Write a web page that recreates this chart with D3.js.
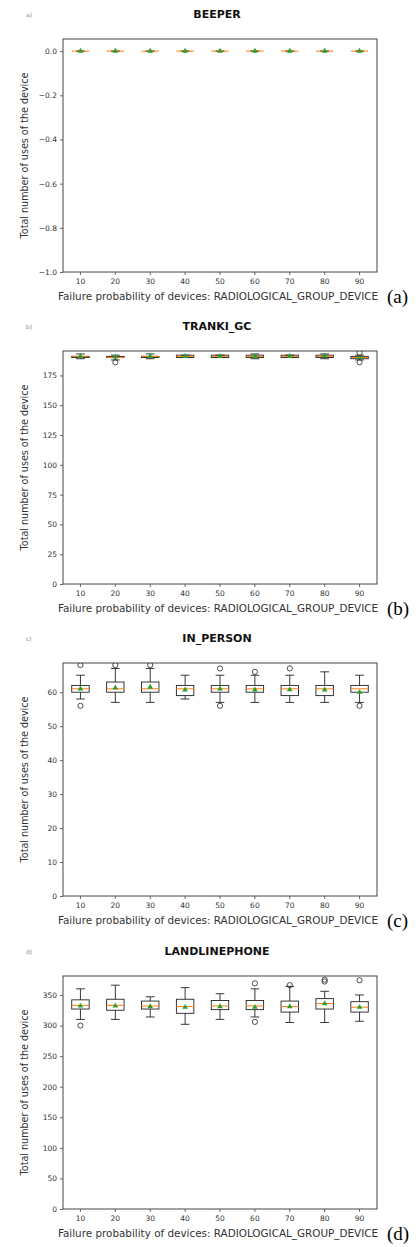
<!DOCTYPE html>
<html>
<head>
<meta charset="utf-8">
<script src="https://cdn.jsdelivr.net/npm/d3@7/dist/d3.min.js"></script>
<style>
  body { margin: 0; background: #fff; }
  svg { display: block; }
</style>
</head>
<body>
<script>
// Width and height
var w = 418;
var h = 1247;

var plotLeft = 63;
var plotRight = 377;
var plotHeight = 233;
var colorFrame = "#444";
var colorBox = "#222";
var colorMedian = "#ff7f0e";
var colorMean = "#2ca02c";

// failure probabilities on the x axis
var categories = [10, 20, 30, 40, 50, 60, 70, 80, 90];

// each box: [whisker low, q1, median, q3, whisker high, mean]
var beeperStats = [
  [0, 0, 0, 0, 0, 0], [0, 0, 0, 0, 0, 0], [0, 0, 0, 0, 0, 0],
  [0, 0, 0, 0, 0, 0], [0, 0, 0, 0, 0, 0], [0, 0, 0, 0, 0, 0],
  [0, 0, 0, 0, 0, 0], [0, 0, 0, 0, 0, 0], [0, 0, 0, 0, 0, 0]
];
var beeperFliers = [[], [], [], [], [], [], [], [], []];
var beeperTicks = [-1.0, -0.8, -0.6, -0.4, -0.2, 0.0];

var trankiStats = [
  [189, 190, 191, 191, 193, 191],
  [188, 190, 190, 191, 192, 190.5],
  [189, 190, 191, 191, 193, 191],
  [190, 190, 191, 192, 192, 191],
  [190, 190, 191, 192, 192, 191],
  [189, 190, 191, 192, 193, 191],
  [190, 190, 191, 192, 192, 191],
  [189, 190, 191, 192, 193, 191.5],
  [188, 189, 190, 191, 192, 190]
];
var trankiFliers = [[], [186], [], [], [], [], [], [], [194, 186]];
var trankiTicks = [0, 25, 50, 75, 100, 125, 150, 175];

var inPersonStats = [
  [58, 60, 61, 62, 65, 61],
  [57, 60, 61, 63, 67, 61.3],
  [57, 60, 61, 63, 67, 61.5],
  [58, 59, 61, 62, 65, 60.7],
  [57, 60, 61, 62, 65, 61],
  [57, 60, 61, 62, 65, 60.7],
  [57, 59, 61, 62, 65, 60.8],
  [57, 59, 61, 62, 66, 60.7],
  [57, 60, 61, 62, 65, 60]
];
var inPersonFliers = [[56, 68], [68], [68], [], [56, 67], [66], [67], [], [56]];
var inPersonTicks = [0, 10, 20, 30, 40, 50, 60];

var landlineStats = [
  [310, 327, 333, 342, 360, 332],
  [310, 325, 333, 343, 366, 332],
  [314, 327, 332, 340, 347, 331],
  [302, 320, 331, 343, 362, 330],
  [310, 326, 332, 341, 352, 331],
  [314, 326, 332, 341, 360, 330],
  [305, 322, 331, 340, 364, 331],
  [305, 327, 336, 344, 356, 336],
  [307, 322, 330, 339, 350, 330]
];
var landlineFliers = [[300], [], [], [], [], [306, 369], [366], [372, 375], [374]];
var landlineTicks = [0, 50, 100, 150, 200, 250, 300, 350];

var panels = [
  {title: "BEEPER", tag: "a)", letter: "(a)", top: 39, domain: [-1.0, 0.055],
   stats: beeperStats, fliers: beeperFliers, ticks: beeperTicks, fmt: d3.format(".1f")},
  {title: "TRANKI_GC", tag: "b)", letter: "(b)", top: 351, domain: [0, 195.5],
   stats: trankiStats, fliers: trankiFliers, ticks: trankiTicks, fmt: d3.format("d")},
  {title: "IN_PERSON", tag: "c)", letter: "(c)", top: 663, domain: [0, 68.6],
   stats: inPersonStats, fliers: inPersonFliers, ticks: inPersonTicks, fmt: d3.format("d")},
  {title: "LANDLINEPHONE", tag: "d)", letter: "(d)", top: 976, domain: [0, 381],
   stats: landlineStats, fliers: landlineFliers, ticks: landlineTicks, fmt: d3.format("d")}
];

//Create SVG element
var svg = d3.select("body")
  .append("svg")
  .attr("width", w)
  .attr("height", h)
  .attr("font-family", "'DejaVu Sans', sans-serif");

var x = d3.scaleBand()
  .domain(categories)
  .range([plotLeft, plotRight])
  .padding(0);
var bw = x.bandwidth();
var boxW = bw * 0.5;
var capW = bw * 0.25;

panels.forEach(function(p, pi) {
  var bottom = p.top + plotHeight;
  var y = d3.scaleLinear().domain(p.domain).range([bottom, p.top]);
  var g = svg.append("g");

  // clip to the axes like matplotlib
  svg.append("clipPath").attr("id", "clip" + pi)
    .append("rect")
    .attr("x", plotLeft).attr("y", p.top)
    .attr("width", plotRight - plotLeft).attr("height", plotHeight);

  // title and small tag
  g.append("text")
    .attr("x", (plotLeft + plotRight) / 2 - 3)
    .attr("y", p.top - 21)
    .attr("text-anchor", "middle")
    .attr("font-size", "11px")
    .attr("font-weight", "bold")
    .attr("fill", "#111")
    .text(p.title);
  g.append("text")
    .attr("x", 26)
    .attr("y", p.top - 22)
    .attr("font-size", "6px")
    .attr("fill", "#888")
    .text(p.tag);

  // axes
  var yAxis = g.append("g")
    .attr("transform", "translate(" + plotLeft + ",0)")
    .call(d3.axisLeft(y).tickValues(p.ticks).tickFormat(p.fmt).tickSize(3).tickPadding(3));
  var xAxis = g.append("g")
    .attr("transform", "translate(0," + bottom + ")")
    .call(d3.axisBottom(x).tickSize(3).tickPadding(4));
  [yAxis, xAxis].forEach(function(a) {
    a.select(".domain").remove();
    a.selectAll("line").attr("stroke", colorFrame).attr("stroke-width", 0.8);
    a.selectAll("text").attr("font-size", "7.5px").attr("fill", "#333")
      .attr("font-family", "'DejaVu Sans', sans-serif");
  });

  // frame
  g.append("rect")
    .attr("x", plotLeft).attr("y", p.top)
    .attr("width", plotRight - plotLeft).attr("height", plotHeight)
    .attr("fill", "none")
    .attr("stroke", colorFrame)
    .attr("stroke-width", 1);

  // axis labels
  g.append("text")
    .attr("transform", "translate(28," + (p.top + plotHeight / 2) + ") rotate(-90)")
    .attr("text-anchor", "middle")
    .attr("font-size", "9.6px")
    .attr("fill", "#333")
    .text("Total number of uses of the device");
  g.append("text")
    .attr("x", 218)
    .attr("y", bottom + 28)
    .attr("text-anchor", "middle")
    .attr("font-size", "10.4px")
    .attr("fill", "#333")
    .text("Failure probability of devices: RADIOLOGICAL_GROUP_DEVICE");
  g.append("text")
    .attr("x", 387)
    .attr("y", bottom + 31)
    .attr("font-family", "'Liberation Serif', 'DejaVu Serif', serif")
    .attr("font-size", "19px")
    .attr("fill", "#000")
    .text(p.letter);

  // boxes
  var boxes = g.append("g").attr("clip-path", "url(#clip" + pi + ")")
    .selectAll("g.box")
    .data(p.stats)
    .enter()
    .append("g")
    .attr("class", "box");

  var cx = function(d, i) { return x(categories[i]) + bw / 2; };

  // whiskers
  boxes.append("line")
    .attr("x1", cx).attr("x2", cx)
    .attr("y1", function(d) { return y(d[0]); })
    .attr("y2", function(d) { return y(d[1]); })
    .attr("stroke", colorBox).attr("stroke-width", 0.9);
  boxes.append("line")
    .attr("x1", cx).attr("x2", cx)
    .attr("y1", function(d) { return y(d[3]); })
    .attr("y2", function(d) { return y(d[4]); })
    .attr("stroke", colorBox).attr("stroke-width", 0.9);
  // caps
  [0, 4].forEach(function(k) {
    boxes.append("line")
      .attr("x1", function(d, i) { return cx(d, i) - capW / 2; })
      .attr("x2", function(d, i) { return cx(d, i) + capW / 2; })
      .attr("y1", function(d) { return y(d[k]); })
      .attr("y2", function(d) { return y(d[k]); })
      .attr("stroke", colorBox).attr("stroke-width", 0.9);
  });
  // box
  boxes.append("rect")
    .attr("x", function(d, i) { return cx(d, i) - boxW / 2; })
    .attr("y", function(d) { return y(d[3]); })
    .attr("width", boxW)
    .attr("height", function(d) { return y(d[1]) - y(d[3]); })
    .attr("fill", "none")
    .attr("stroke", colorBox).attr("stroke-width", 0.9);
  // median
  boxes.append("line")
    .attr("x1", function(d, i) { return cx(d, i) - boxW / 2; })
    .attr("x2", function(d, i) { return cx(d, i) + boxW / 2; })
    .attr("y1", function(d) { return y(d[2]); })
    .attr("y2", function(d) { return y(d[2]); })
    .attr("stroke", colorMedian).attr("stroke-width", 1);
  // mean triangle
  boxes.append("path")
    .attr("d", d3.symbol().type(d3.symbolTriangle).size(14))
    .attr("transform", function(d, i) { return "translate(" + cx(d, i) + "," + y(d[5]) + ")"; })
    .attr("fill", colorMean);

  // fliers
  boxes.each(function(d, i) {
    d3.select(this).selectAll("circle")
      .data(p.fliers[i])
      .enter()
      .append("circle")
      .attr("cx", cx(d, i))
      .attr("cy", function(v) { return y(v); })
      .attr("r", 2.6)
      .attr("fill", "none")
      .attr("stroke", colorBox)
      .attr("stroke-width", 0.8);
  });
});
</script>
</body>
</html>
